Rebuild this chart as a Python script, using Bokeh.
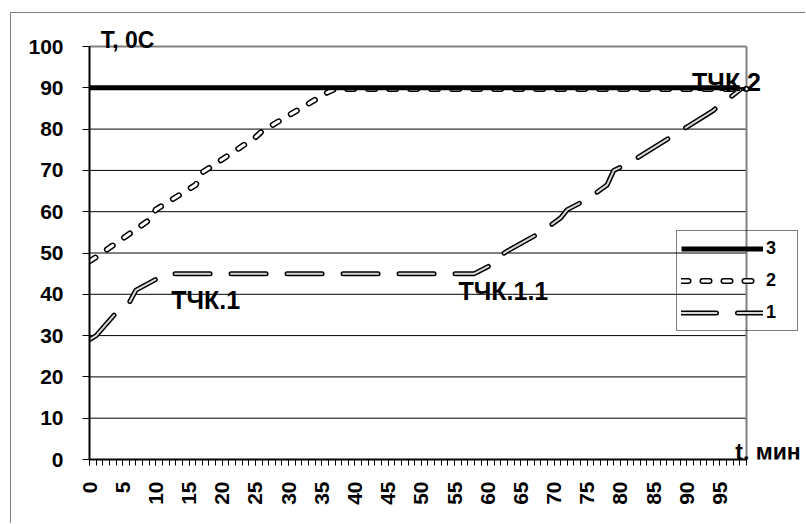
from bokeh.plotting import figure
from bokeh.models import Range1d, FixedTicker, Label, Legend, LegendItem
from bokeh.embed import file_html
from bokeh.resources import INLINE

# ---- data ----
t1 = [0, 1, 4, 6, 7, 11, 12, 58, 61, 62, 63, 68, 71, 72, 75, 78, 79, 81, 89, 90, 94, 95, 96, 98]
v1 = [29, 30, 35.5, 38, 41, 44.5, 45, 45, 47.5, 49.5, 50.5, 55, 58.5, 60.5, 63, 66.5, 70, 71.5, 79.5, 80.5, 84.5, 86, 87, 89.5]

t2 = [0, 1, 9, 10, 16, 17, 25, 26, 36, 37, 99]
v2 = [48, 49, 58, 60.5, 66.5, 69.5, 78, 79.5, 89, 89.7, 89.7]

t3 = [0, 98]
v3 = [90, 90]

series_names = ["3", "2", "1"]
x_major_ticks = list(range(0, 100, 5))
x_minor_ticks = list(range(0, 100))
y_ticks = list(range(0, 101, 10))
y_grid = list(range(10, 100, 10))
X_MIN, X_MAX = 0, 99
Y_MIN, Y_MAX = 0, 100

point_labels = ["ТЧК.1", "ТЧК.1.1", "ТЧК.2"]
y_title = "T, 0C"
x_title = "t, мин"

FONT = "Liberation Sans"

# ---- layout (pixels) ----
W, H = 795, 511            # canvas inside the outer border
LEFT = 78                  # canvas x of value axis
AXIS_Y = 446               # canvas y of t axis (value 0) = frame bottom
TOP_Y = 33                 # canvas y of value 100
RIGHT_X = 735              # canvas x of t = 99

px_per_x = (RIGHT_X - LEFT) / (X_MAX - X_MIN)
px_per_y = (AXIS_Y - TOP_Y) / (Y_MAX - Y_MIN)
x_end = X_MIN + (W - LEFT) / px_per_x
y_end = Y_MAX + TOP_Y / px_per_y

p = figure(width=W, height=H, x_range=Range1d(X_MIN, x_end), y_range=Range1d(Y_MIN, y_end),
           output_backend="svg", toolbar_location=None,
           min_border_left=LEFT, min_border_right=0, min_border_top=0,
           min_border_bottom=H - AXIS_Y)
p.margin = (12, 0, 0, 10)
p.styles = {"border-left": "1px solid #808080", "border-top": "1px solid #808080"}
p.background_fill_color = "white"
p.border_fill_color = "white"
p.outline_line_color = None
p.xgrid.visible = False
p.ygrid.visible = False

# axes
p.xaxis.bounds = (X_MIN, X_MAX)
p.xaxis.ticker = FixedTicker(ticks=x_major_ticks, minor_ticks=x_minor_ticks)
p.xaxis.major_tick_out = 6
p.xaxis.major_tick_in = 0
p.xaxis.minor_tick_out = 6
p.xaxis.minor_tick_in = 0
p.xaxis.major_tick_line_color = "black"
p.xaxis.minor_tick_line_color = "black"
p.xaxis.axis_line_color = "black"
p.xaxis.axis_line_width = 2
p.xaxis.major_label_orientation = 3.14159265 / 2
p.xaxis.major_label_standoff = 16
p.xaxis.major_label_text_font = FONT
p.xaxis.major_label_text_font_style = "bold"
p.xaxis.major_label_text_font_size = "21px"
p.xaxis.major_label_text_color = "black"

p.yaxis.bounds = (Y_MIN, Y_MAX)
p.yaxis.ticker = FixedTicker(ticks=y_ticks, minor_ticks=[])
p.yaxis.major_tick_out = 7
p.yaxis.major_tick_in = 0
p.yaxis.major_tick_line_color = "black"
p.yaxis.axis_line_color = "black"
p.yaxis.axis_line_width = 2
p.yaxis.major_label_standoff = 19
p.yaxis.major_label_text_font = FONT
p.yaxis.major_label_text_font_style = "bold"
p.yaxis.major_label_text_font_size = "21px"
p.yaxis.major_label_text_color = "black"

# horizontal grid lines and gray plot-area border (top and right)
n = len(y_grid)
p.segment(x0=[X_MIN] * n, y0=y_grid, x1=[X_MAX] * n, y1=y_grid, line_color="black", line_width=1)
p.segment(x0=[X_MIN, X_MAX], y0=[Y_MAX, Y_MIN], x1=[X_MAX, X_MAX], y1=[Y_MAX, Y_MAX],
          line_color="#808080", line_width=2)

# series 1 (double long-dash line)
r1o = p.line(t1, v1, line_color="black", line_width=5, line_dash="35 21", line_cap="round", line_join="round")
r1i = p.line(t1, v1, line_color="#d8d8d8", line_width=2, line_dash="35 21", line_cap="round", line_join="round")
# series 2 (double short-dash line)
r2o = p.line(t2, v2, line_color="black", line_width=6, line_dash="7 14", line_cap="round", line_join="round")
r2i = p.line(t2, v2, line_color="white", line_width=3, line_dash="7 14", line_cap="round", line_join="round")
# series 3 (thick solid)
r3 = p.line(t3, v3, line_color="black", line_width=5)

legend = Legend(items=[LegendItem(label=series_names[0], renderers=[r3]),
                       LegendItem(label=series_names[1], renderers=[r2o, r2i]),
                       LegendItem(label=series_names[2], renderers=[r1o, r1i])],
                location=(587, 128))
legend.margin = 0
legend.padding = 4
legend.spacing = 5
legend.label_height = 27
legend.glyph_height = 27
legend.glyph_width = 82
legend.label_standoff = 3
legend.label_width = 27
legend.border_line_color = "black"
legend.border_line_width = 1
legend.background_fill_alpha = 0
legend.label_text_font = FONT
legend.label_text_font_style = "bold"
legend.label_text_font_size = "18px"
legend.label_text_color = "black"
p.add_layout(legend, "center")

# labels positioned by the vertical middle of their capitals
label_pos = [(12.3, 38.5), (55.6, 40.9), (90.8, 91.3)]
for txt, (lx, ly) in zip(point_labels, label_pos):
    p.add_layout(Label(x=lx, y=ly, text=txt, text_font=FONT, text_font_style="bold",
                       text_font_size="25px", text_color="black", text_baseline="middle"))

p.add_layout(Label(x=1.7, y=101.5, text=y_title, text_font=FONT, text_font_style="bold",
                   text_font_size="23px", text_color="black", text_baseline="middle"))
p.add_layout(Label(x=97.3, y=1.8, text=x_title, text_font=FONT, text_font_style="bold",
                   text_font_size="23px", text_color="black", text_baseline="middle"))

open("out.html", "w").write(file_html(p, INLINE))
